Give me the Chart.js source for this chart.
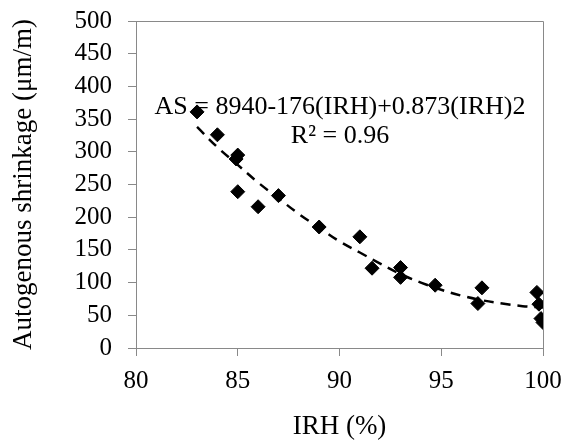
<!DOCTYPE html>
<html>
<head>
<meta charset="utf-8">
<script src="https://cdn.jsdelivr.net/npm/chart.js@4/dist/chart.umd.min.js"></script>
<style>
    html, body { margin: 0; padding: 0; background: #ffffff; }
    #shrinkChart { display: block; }
</style>
</head>
<body>
<canvas id="shrinkChart" width="564" height="440"></canvas>
<script>
const irhValues = [83.0, 84.0, 85.0, 84.92, 85.0, 86.0, 87.0, 89.0, 91.0, 91.6, 93.0, 93.0, 94.7, 97.0, 96.8, 99.7, 99.8, 99.9, 100.0];
const shrinkValues = [361, 326, 295, 289, 239, 216, 233, 185, 170, 122, 123, 108, 96, 92, 68, 85, 67, 45, 39];

const trendIrh = [83, 84, 85, 86, 87, 88, 89, 90, 91, 92, 93, 94, 95, 96, 97, 98, 99, 100];
const trendShrink = [338, 307, 280, 253, 229, 205, 184, 163, 146, 129, 113, 100, 89, 80, 73, 68, 64, 62];

const xTicks = [80, 85, 90, 95, 100];
const yTicks = [0, 50, 100, 150, 200, 250, 300, 350, 400, 450, 500];

const equationLines = ["AS = 8940-176(IRH)+0.873(IRH)2", "R\u00b2 = 0.96"];

const serif = "'Liberation Serif', 'Times New Roman', serif";
const axisGray = "#898989";

const frameAndLabel = {
    id: "frameAndLabel",
    beforeDatasetsDraw(chart) {
        const { ctx, chartArea } = chart;
        ctx.save();
        ctx.fillStyle = "#000000";
        ctx.font = "26px " + serif;
        ctx.textAlign = "center";
        ctx.textBaseline = "alphabetic";
        const cx = chartArea.left + 204;
        ctx.fillText(equationLines[0], cx, chartArea.top + 93);
        ctx.fillText(equationLines[1], cx, chartArea.top + 122);
        ctx.restore();
    },
    afterDraw(chart) {
        const { ctx, chartArea } = chart;
        ctx.save();
        ctx.strokeStyle = axisGray;
        ctx.lineWidth = 1;
        ctx.beginPath();
        ctx.moveTo(chartArea.left, chartArea.top + 0.5);
        ctx.lineTo(chartArea.right + 0.5, chartArea.top + 0.5);
        ctx.lineTo(chartArea.right + 0.5, chartArea.bottom);
        ctx.stroke();
        ctx.restore();
    }
};

const ctx = document.getElementById("shrinkChart").getContext("2d");

new Chart(ctx, {
    type: "scatter",
    data: {
        datasets: [{
            label: "Trend",
            data: trendIrh.map((x, i) => ({ x: x, y: trendShrink[i] })),
            showLine: true,
            borderColor: "#000000",
            borderWidth: 2.5,
            borderDash: [10, 7],
            pointRadius: 0,
            tension: 0.4,
            fill: false
        }, {
            label: "Autogenous shrinkage",
            data: irhValues.map((x, i) => ({ x: x, y: shrinkValues[i] })),
            pointStyle: "rectRot",
            pointRadius: 7,
            pointBackgroundColor: "#000000",
            pointBorderColor: "#000000",
            pointBorderWidth: 1,
            showLine: false
        }]
    },
    options: {
        responsive: false,
        animation: false,
        layout: {
            padding: { top: 21, right: 21, left: 0, bottom: 0 }
        },
        plugins: {
            legend: { display: false },
            tooltip: { enabled: false }
        },
        scales: {
            x: {
                type: "linear",
                min: 80,
                max: 100,
                afterBuildTicks: scale => {
                    scale.ticks = xTicks.map(v => ({ value: v }));
                },
                afterFit: scale => {
                    scale.height = 92;
                    scale.paddingLeft = 0;
                    scale.paddingRight = 0;
                },
                grid: {
                    drawOnChartArea: false,
                    drawTicks: true,
                    tickLength: 8,
                    tickColor: axisGray
                },
                border: { display: true, color: axisGray, width: 1 },
                ticks: {
                    color: "#000000",
                    padding: 10,
                    maxRotation: 0,
                    autoSkip: false,
                    font: { family: serif, size: 25 }
                },
                title: {
                    display: true,
                    text: "IRH (%)",
                    color: "#000000",
                    padding: { top: 0, bottom: 0 },
                    font: { family: serif, size: 27, lineHeight: 1 }
                }
            },
            y: {
                type: "linear",
                min: 0,
                max: 500,
                afterBuildTicks: scale => {
                    scale.ticks = yTicks.map(v => ({ value: v }));
                },
                afterFit: scale => {
                    scale.width = 136;
                    scale.paddingTop = 0;
                    scale.paddingBottom = 0;
                },
                grid: {
                    drawOnChartArea: false,
                    drawTicks: true,
                    tickLength: 8,
                    tickColor: axisGray
                },
                border: { display: true, color: axisGray, width: 1 },
                ticks: {
                    color: "#000000",
                    padding: 16,
                    autoSkip: false,
                    font: { family: serif, size: 25 }
                },
                title: {
                    display: true,
                    text: "Autogenous shrinkage (\u03bcm/m)",
                    color: "#000000",
                    padding: { top: 10, bottom: 0 },
                    font: { family: serif, size: 27, lineHeight: 1 }
                }
            }
        }
    },
    plugins: [frameAndLabel]
});
</script>
</body>
</html>
